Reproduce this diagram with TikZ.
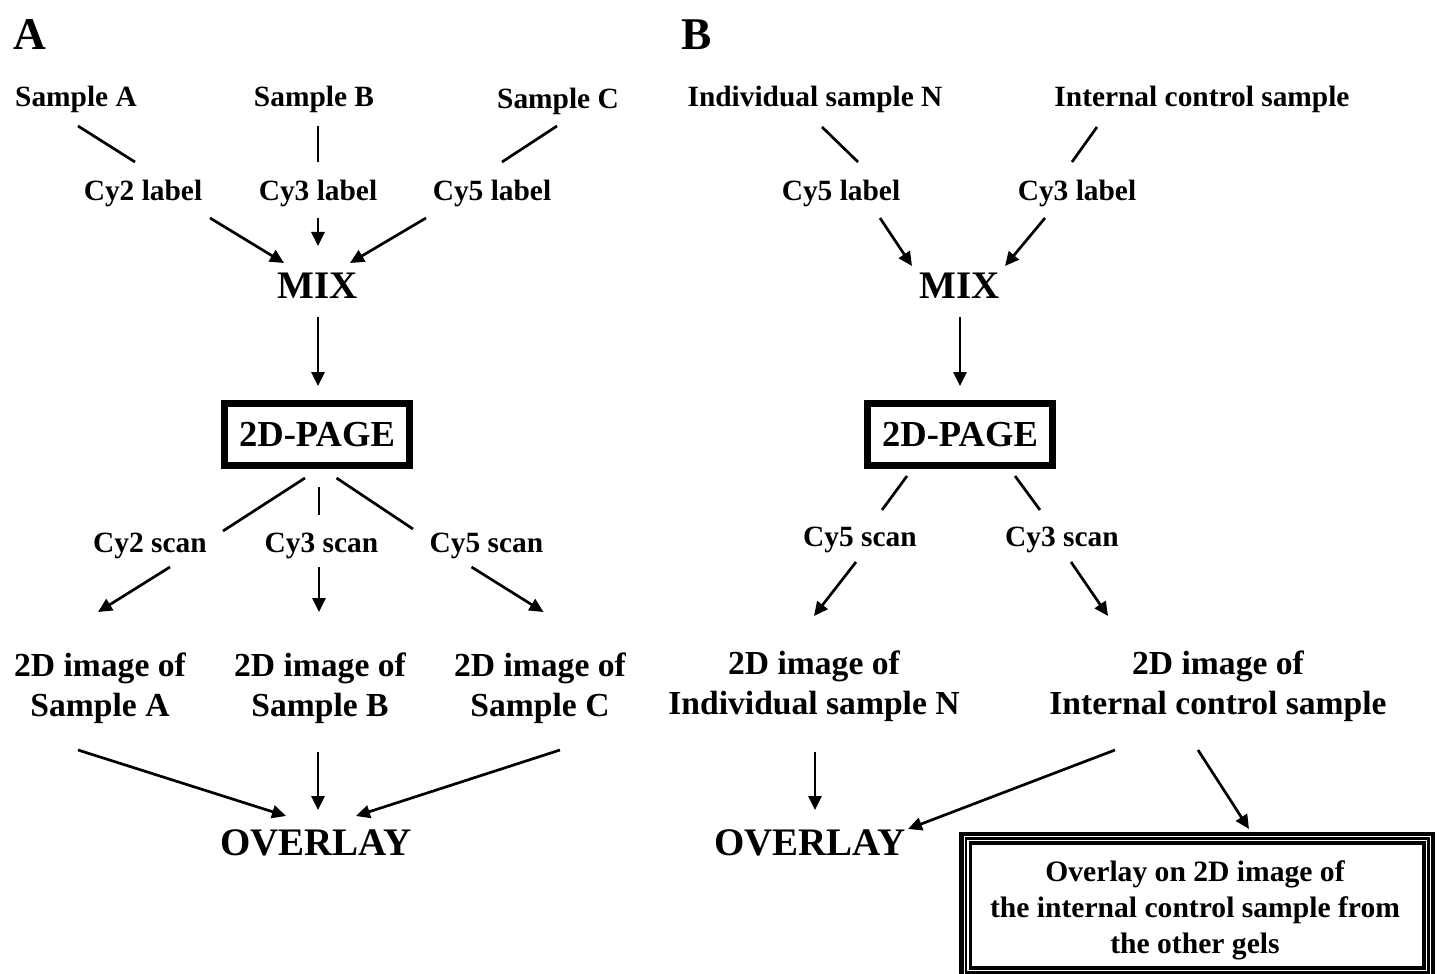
\documentclass[tikz,border=0pt]{standalone}
\usepackage{fontspec}
\setmainfont{Liberation Serif}
\usetikzlibrary{arrows.meta}
\begin{document}
\begin{tikzpicture}[x=0.5pt,y=-0.5pt,
 lab/.style={font=\fontsize{14.7}{17}\selectfont\bfseries, inner sep=0, yshift=-1.5pt},
 big/.style={font=\fontsize{19.5}{22}\selectfont\bfseries, inner sep=0},
 img/.style={font=\fontsize{16.8}{20}\selectfont\bfseries, align=center, inner sep=0, yshift=-1.5pt},
 panel/.style={font=\fontsize{22.7}{26}\selectfont\bfseries, inner sep=0},
 ln/.style={line width=1.35pt},
 arr/.style={line width=1.35pt, -{Triangle[length=7pt,width=6.5pt]}},
 pagebox/.style={draw, line width=3.5pt, minimum width=92.5pt, minimum height=31pt, inner sep=0,
   font=\fontsize{18.3}{21}\selectfont\bfseries}
]
\useasboundingbox (0,0) rectangle (1442,974);

% ---------- Panel A ----------
\node[panel] (pA) at (30,35) {A};
\node[lab] (sA) at (76,96) {Sample A};
\node[lab] (sB) at (314,96) {Sample B};
\node[lab] (sC) at (558,98) {Sample C};
\coordinate (a1s) at (78,126); \coordinate (a1e) at (135,162);
\coordinate (a2s) at (318,126); \coordinate (a2e) at (318,162);
\coordinate (a3s) at (557,126); \coordinate (a3e) at (502,162);
\draw[ln] (a1s) -- (a1e);
\draw[ln] (a2s) -- (a2e);
\draw[ln] (a3s) -- (a3e);
\node[lab] (c2l) at (143,190) {Cy2 label};
\node[lab] (c3l) at (318,190) {Cy3 label};
\node[lab] (c5l) at (492,190) {Cy5 label};
\coordinate (b1s) at (210,218); \coordinate (b1e) at (284,263);
\coordinate (b2s) at (318,218); \coordinate (b2e) at (318,246);
\coordinate (b3s) at (426,218); \coordinate (b3e) at (350,263);
\draw[arr] (b1s) -- (b1e);
\draw[arr] (b2s) -- (b2e);
\draw[arr] (b3s) -- (b3e);
\node[big] (mixA) at (318,286) {MIX};
\coordinate (m1s) at (318,317); \coordinate (m1e) at (318,386);
\draw[arr] (m1s) -- (m1e);
\node[pagebox] (pgA) at (317,434.5) {2D-PAGE};
\coordinate (d1s) at (305,478); \coordinate (d1e) at (223,531);
\coordinate (d2s) at (319,487); \coordinate (d2e) at (319,515);
\coordinate (d3s) at (336.5,478); \coordinate (d3e) at (413,529);
\draw[ln] (d1s) -- (d1e);
\draw[ln] (d2s) -- (d2e);
\draw[ln] (d3s) -- (d3e);
\node[lab] (c2s) at (150,543) {Cy2 scan};
\node[lab] (c3s) at (321.5,543) {Cy3 scan};
\node[lab] (c5s) at (486.5,543) {Cy5 scan};
\coordinate (e1s) at (170,567); \coordinate (e1e) at (98,612);
\coordinate (e2s) at (319,567); \coordinate (e2e) at (319,612);
\coordinate (e3s) at (471.5,567); \coordinate (e3e) at (543.5,612);
\draw[arr] (e1s) -- (e1e);
\draw[arr] (e2s) -- (e2e);
\draw[arr] (e3s) -- (e3e);
\node[img] (iA) at (100,685) {2D image of\\Sample A};
\node[img] (iB) at (320,685) {2D image of\\Sample B};
\node[img] (iC) at (540,685) {2D image of\\Sample C};
\coordinate (f1s) at (78,750); \coordinate (f1e) at (286,816);
\coordinate (f2s) at (318,752); \coordinate (f2e) at (318,810);
\coordinate (f3s) at (560,750); \coordinate (f3e) at (356,816);
\draw[arr] (f1s) -- (f1e);
\draw[arr] (f2s) -- (f2e);
\draw[arr] (f3s) -- (f3e);
\node[big] (ovA) at (316,843) {OVERLAY};

% ---------- Panel B ----------
\node[panel] (pB) at (697,35) {B};
\node[lab] (sN) at (815,96) {Individual sample N};
\node[lab] (sI) at (1202,96) {Internal control sample};
\coordinate (g1s) at (822,127); \coordinate (g1e) at (858,162);
\coordinate (g2s) at (1097,127); \coordinate (g2e) at (1072,162);
\draw[ln] (g1s) -- (g1e);
\draw[ln] (g2s) -- (g2e);
\node[lab] (c5lB) at (841,190) {Cy5 label};
\node[lab] (c3lB) at (1077,190) {Cy3 label};
\coordinate (h1s) at (880,218); \coordinate (h1e) at (912,266);
\coordinate (h2s) at (1045,218); \coordinate (h2e) at (1005,266);
\draw[arr] (h1s) -- (h1e);
\draw[arr] (h2s) -- (h2e);
\node[big] (mixB) at (960,286) {MIX};
\coordinate (m2s) at (960,317); \coordinate (m2e) at (960,386);
\draw[arr] (m2s) -- (m2e);
\node[pagebox] (pgB) at (960,434.5) {2D-PAGE};
\coordinate (k1s) at (907,476); \coordinate (k1e) at (882,510);
\coordinate (k2s) at (1015,476); \coordinate (k2e) at (1040,510);
\draw[ln] (k1s) -- (k1e);
\draw[ln] (k2s) -- (k2e);
\node[lab] (c5sB) at (860,537) {Cy5 scan};
\node[lab] (c3sB) at (1062,537) {Cy3 scan};
\coordinate (n1s) at (856,562); \coordinate (n1e) at (814,616);
\coordinate (n2s) at (1071,562); \coordinate (n2e) at (1108,616);
\draw[arr] (n1s) -- (n1e);
\draw[arr] (n2s) -- (n2e);
\node[img] (iN) at (814,683) {2D image of\\Individual sample N};
\node[img] (iI) at (1218,683) {2D image of\\Internal control sample};
\coordinate (p1s) at (815,752); \coordinate (p1e) at (815,810);
\coordinate (p2s) at (1115,750); \coordinate (p2e) at (908,829);
\coordinate (p3s) at (1198,750); \coordinate (p3e) at (1249,829);
\draw[arr] (p1s) -- (p1e);
\draw[arr] (p2s) -- (p2e);
\draw[arr] (p3s) -- (p3e);
\node[big] (ovB) at (810,843) {OVERLAY};

% triple-bordered box
\begin{scope}
\clip (0,0) rectangle (1442,974);
\draw[line width=2.25pt] (961.25,834) rectangle (1432.75,976.75);
\draw[line width=1.25pt] (965.75,838.5) rectangle (1428.25,972.25);
\draw[line width=1.7pt] (970.2,843) rectangle (1423.8,967.8);
\end{scope}
\node[font=\fontsize{14.8}{18}\selectfont\bfseries, align=center, inner sep=0] (ctrl) at (1195,910)
  {Overlay on 2D image of\\the internal control sample from\\the other gels};
\end{tikzpicture}
\end{document}
